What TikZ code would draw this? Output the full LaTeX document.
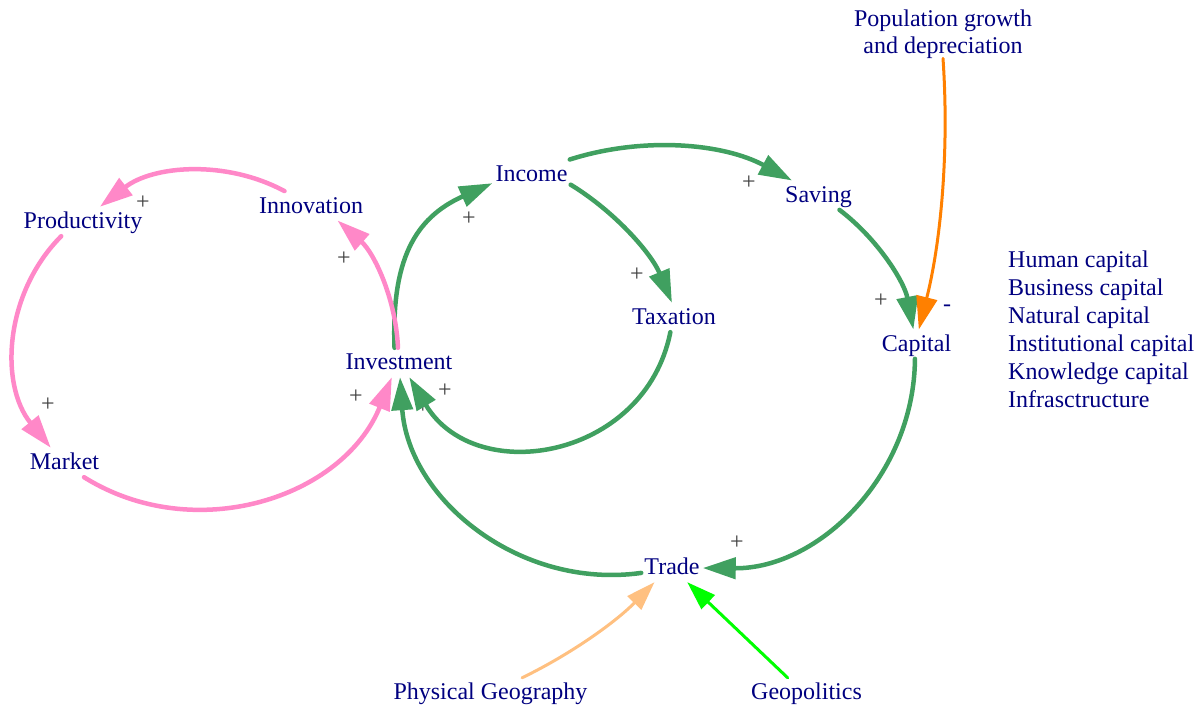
\documentclass[tikz,border=0pt]{standalone}
\usepackage{fontspec}
\setmainfont{Liberation Serif}
\usetikzlibrary{arrows.meta}

\definecolor{navytext}{HTML}{000080}
\definecolor{loopgreen}{HTML}{40A060}
\definecolor{looppink}{HTML}{FF88C8}
\definecolor{poporange}{HTML}{FF8000}
\definecolor{geoorange}{HTML}{FFC080}
\definecolor{geogreen}{HTML}{00FF00}
\definecolor{signgray}{HTML}{404040}

\begin{document}
\begin{tikzpicture}[x=1pt,y=1pt,
  var/.style={text=navytext, font=\fontsize{24}{28}\selectfont,
    inner xsep=3pt, inner ysep=3pt, text height=19pt, text depth=4pt, anchor=base},
  sign/.style={text=signgray, font=\fontsize{24}{28}\selectfont, inner sep=0pt},
  link/.style={line width=4.5pt, line cap=round,
    -{Triangle[length=33pt,width=21pt]}},
  thinlink/.style={line width=3pt, line cap=round,
    -{Triangle[length=29pt,width=19pt]}}]

\useasboundingbox (0,0) rectangle (1202,706);
\fill[white] (0,0) rectangle (1202,706);

% variables
\node[var] (innov)   at (311,492.7)   {Innovation};
\node[var] (prod)    at (83,477)      {Productivity};
\node[var] (market)  at (64.5,236)    {Market};
\node[var] (invest)  at (399,336)     {Investment};
\node[var] (income)  at (531.5,524.3) {Income};
\node[var] (tax)     at (674,381)     {Taxation};
\node[var] (saving)  at (818.5,503.3) {Saving};
\node[var] (capital) at (916.5,354.3) {Capital};
\node[var] (trade)   at (672,131)     {Trade};
\node[var] (physgeo) at (490.5,6)     {Physical Geography};
\node[var] (geopol)  at (806.5,6)     {Geopolitics};
\node[text=navytext, font=\fontsize{24}{26.7}\selectfont, align=center,
      inner sep=0pt, anchor=north] (pop) at (943,696.4)
      {Population growth\\and depreciation};
\node[text=navytext, font=\fontsize{24}{28}\selectfont, align=left,
      inner sep=0pt, anchor=north west] (kinds) at (1008,455.7)
      {Human capital\\Business capital\\Natural capital\\Institutional capital\\Knowledge capital\\Infrasctructure};

% polarity signs
\node[sign] (s1)  at (143,503)   {+};
\node[sign] (s2)  at (48,301)    {+};
\node[sign] (s3)  at (356,309)   {+};
\node[sign] (s4)  at (344,447)   {+};
\node[sign] (s5)  at (469,487)   {+};
\node[sign] (s6)  at (637,431)   {+};
\node[sign] (s7)  at (445,315)   {+};
\node[sign] (s8)  at (423,299)   {+};
\node[sign] (s9)  at (749,523)   {+};
\node[sign] (s10) at (881,405)   {+};
\node[sign] (s11) at (737,163)   {+};
\node[sign, text=navytext] (s12) at (947,398) {-};

% green loops
\draw[link, loopgreen] (invest.107) to[out=92, in=204, looseness=1.15] (income.193);
\draw[link, loopgreen] (income.21) to[bend left=23, looseness=0.89] (saving.151);
\draw[link, loopgreen] (income.345) to[bend left=18, looseness=0.87] (tax.98);
\draw[link, loopgreen] (tax.256) to[bend left=69, looseness=1.25] (invest.305);
\draw[link, loopgreen] (saving.325) to[bend left=21, looseness=0.88] (capital.102);
\draw[link, loopgreen] (capital.264) to[bend left=45] (trade.359);
\draw[link, loopgreen] (trade.190) to[bend left=47, looseness=1.01] (invest.274);

% pink loop
\draw[link, looppink] (innov.151) to[bend right=33, looseness=0.93] (prod.41);
\draw[link, looppink] (prod.214) to[bend right=42, looseness=0.98] (market.133);
\draw[link, looppink] (market.323) to[bend right=50, looseness=1.03] (invest.244);
\draw[link, looppink] (invest.94) to[bend right=23, looseness=0.89] (innov.331);

% external influences
\draw[link, line width=3pt, poporange] (pop.south) to[bend left=9, looseness=0.86] (capital.81);
\draw[thinlink, geoorange] (physgeo.25) to[bend right=10, looseness=0.86] (trade.220);
\draw[thinlink, geogreen] (geopol.142) to (trade.316);

\end{tikzpicture}
\end{document}
